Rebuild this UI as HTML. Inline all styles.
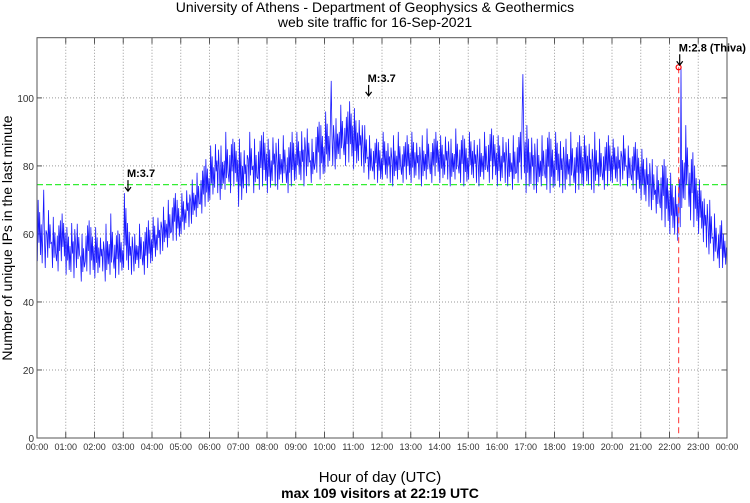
<!DOCTYPE html>
<html><head><meta charset="utf-8"><style>
html,body{margin:0;padding:0;background:#fff;}
svg{display:block;font-family:"Liberation Sans",sans-serif;}
</style></head><body>
<svg id="chart" width="750" height="503" viewBox="0 0 750 503">
<text x="375" y="12" text-anchor="middle" font-size="14">University of Athens - Department of Geophysics &amp; Geothermics</text>
<text x="375" y="27" text-anchor="middle" font-size="14">web site traffic for 16-Sep-2021</text>
<text transform="translate(12,238) rotate(-90)" text-anchor="middle" font-size="14">Number of unique IPs in the last minute</text>
<text x="380" y="482" text-anchor="middle" font-size="15">Hour of day (UTC)</text>
<text x="380" y="498" text-anchor="middle" font-size="14" font-weight="bold">max 109 visitors at 22:19 UTC</text>
<g id="grid"></g>
<g id="series"></g>
<g id="annot"></g>
<rect x="37" y="37.7" width="690" height="400.3" fill="none" stroke="#555" stroke-width="1"/>
</svg>
<script>
const yTicks=[0,20,40,60,80,100];
const xTickLabels=["00:00","01:00","02:00","03:00","04:00","05:00","06:00","07:00","08:00","09:00","10:00","11:00","12:00","13:00","14:00","15:00","16:00","17:00","18:00","19:00","20:00","21:00","22:00","23:00","00:00"];
// 10-minute bins: low and high of the per-minute counts
const binLow=[52,50,53,50,49,52, 48,47,50,46,49,48, 47,49,46,48,47,48, 50,48,49,50,48,50,
52,54,55,56,58,58, 60,62,63,65,66,68, 70,72,70,73,72,74, 68,72,74,72,73,74,
72,74,73,75,72,74, 76,74,77,75,78,76, 78,80,79,82,80,81, 79,80,78,76,76,75,
76,75,74,76,75,76, 75,76,74,76,75,77, 75,76,74,76,75,74, 76,75,74,76,75,76,
74,75,74,73,75,76, 72,73,72,74,73,72, 74,72,73,74,72,73, 74,73,72,74,73,74,
75,74,76,74,73,72, 70,68,67,66,64,62, 60,58,62,70,64,62, 60,56,54,52,50,50];
const binHigh=[70,73,67,65,64,66, 62,65,63,60,64,62, 62,60,63,66,61,60, 72,62,60,63,62,64,
65,66,68,70,72,70, 72,74,76,78,80,82, 86,88,86,90,88,87, 88,86,90,88,89,90,
88,90,88,89,87,90, 90,92,91,88,93,92, 96,105,94,98,96,99, 97,95,92,89,88,87,
90,88,89,90,87,89, 90,88,89,91,88,90, 89,90,88,91,89,88, 90,89,88,90,91,89,
89,90,88,89,90,107, 92,90,88,89,90,88, 90,89,88,90,87,89, 89,88,90,88,87,89,
88,87,89,86,87,85, 85,84,82,80,82,80, 78,76,109,92,84,80, 76,72,70,66,64,60];
const meanValue=74.5, peakValue=109, peakHour=22+19/60;
const quakeHours=[3.13,11.5,22.32];
const quakeLabels=["M:3.7","M:3.7","M:2.8 (Thiva)"];
const quakeValues=[72,100,109];

const NS="http://www.w3.org/2000/svg";
const L=37,R=727,T=37.7,B=438,YMAX=117.7;
const xs=h=>L+(R-L)*h/24, ys=v=>B-(B-T)*v/YMAX;
function mk(tag,attrs,parent){const e=document.createElementNS(NS,tag);for(const k in attrs)e.setAttribute(k,attrs[k]);parent.appendChild(e);return e;}
const grid=document.getElementById('grid'),ser=document.getElementById('series'),an=document.getElementById('annot');
yTicks.forEach(v=>{
  const y=ys(v);
  if(v>0){const g=mk('line',{x1:L,x2:R,y1:y,y2:y,stroke:'#999','stroke-dasharray':'1,2'},grid);
  
  }
  mk('line',{x1:L,x2:L+5,y1:y,y2:y,stroke:'#555'},grid);
  mk('line',{x1:R-5,x2:R,y1:y,y2:y,stroke:'#555'},grid);
  const t=mk('text',{x:L-3,y:y+4,'text-anchor':'end','font-size':'10',fill:'#333'},grid);t.textContent=v;
  
  
});
xTickLabels.forEach((lab,i)=>{
  const x=xs(i);
  if(i>0&&i<24){const g=mk('line',{x1:x,x2:x,y1:T,y2:B,stroke:'#999','stroke-dasharray':'1,2'},grid);
  
  }
  mk('line',{x1:x,x2:x,y1:B-6,y2:B,stroke:'#555'},grid);
  mk('line',{x1:x,x2:x,y1:T,y2:T+6,stroke:'#555'},grid);
  const t=mk('text',{x:x,y:B+12,'text-anchor':'middle','font-size':'9',fill:'#333'},grid);t.textContent=lab;
  
  
});
const ml=mk('line',{x1:L,x2:R,y1:ys(meanValue),y2:ys(meanValue),stroke:'#33ee33','stroke-width':1.2,'stroke-dasharray':'6,3'},ser);


const shapes=[[0,1,0.3,0.8,0.1,0.6],[0.2,0.7,0,0.9,0.4,1],[0.5,0,1,0.2,0.7,0.3],[0.1,0.9,0.4,0.6,0,0.8]];
let pts=[];
binLow.forEach((lo,i)=>{
  const h0=i/6, hi=binHigh[i], sh=shapes[(i*7+Math.floor(i/3))%4];
  const big=hi-lo>22;
  sh.forEach((f,k)=>{
    let v=big ? lo+(hi-lo)*f*0.6 : lo+(hi-lo)*f;
    if(big && k===2) v=hi;
    pts.push(xs(h0+(k*1.6+0.8)/60).toFixed(2)+','+ys(v).toFixed(2));
  });
});
const pl=mk('polyline',{points:pts.join(' '),fill:'none',stroke:'#1a1aff','stroke-width':0.8},ser);


const px=xs(peakHour),py=ys(peakValue);
const pv=mk('line',{x1:px,x2:px,y1:py,y2:B,stroke:'#ff5555','stroke-width':1.2,'stroke-dasharray':'6,4'},an);


const pc=mk('circle',{cx:px,cy:py,r:2.5,fill:'none',stroke:'#ff0000','stroke-width':1.2},an);


quakeHours.forEach((h,i)=>{
  const x=xs(h)+1,y=ys(quakeValues[i])-2;
  const a=mk('path',{d:`M${x},${y-11} L${x},${y} M${x-3},${y-4} L${x},${y} L${x+3},${y-4}`,stroke:'#000','stroke-width':1.2,fill:'none'},an);
  
  
  const t=mk('text',{x:x-1,y:y-14,'font-size':'11','font-weight':'bold'},an);t.textContent=quakeLabels[i];
  
  
});
</script>
</body></html>
